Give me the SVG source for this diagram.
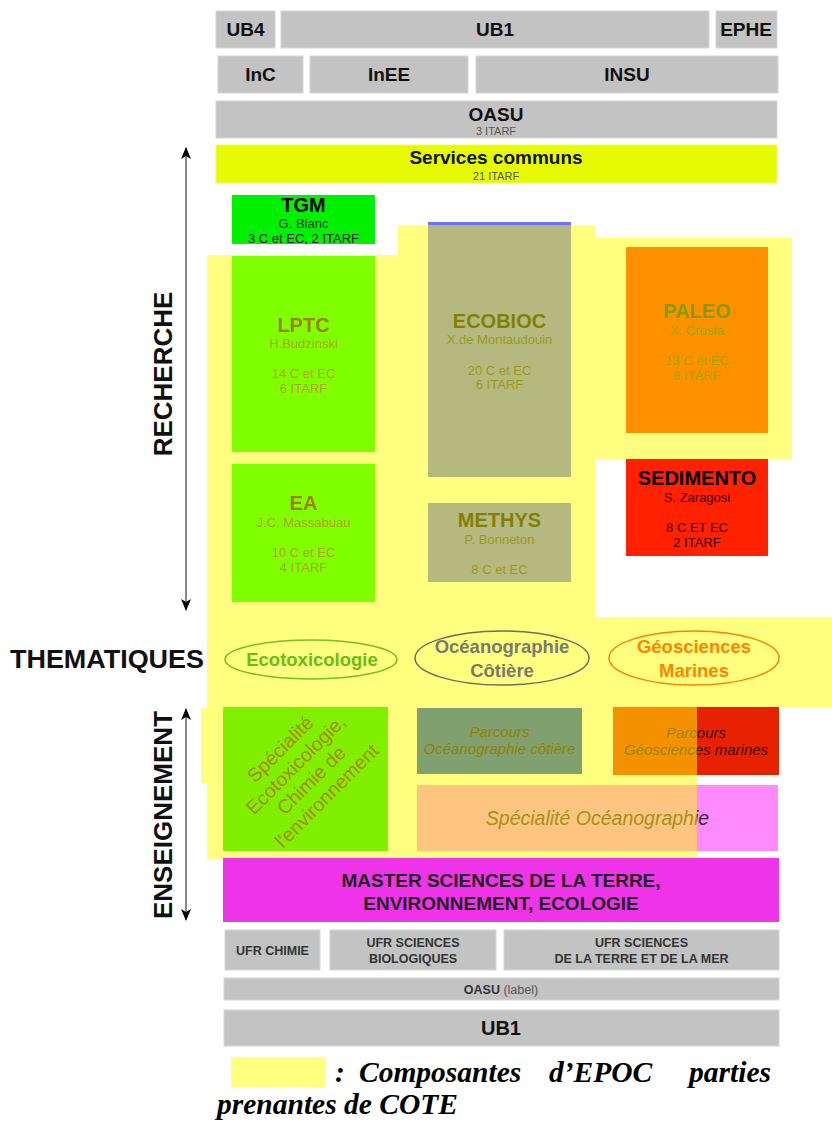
<svg xmlns="http://www.w3.org/2000/svg" width="832" height="1124" viewBox="0 0 832 1124">
<defs>
<style>
text{font-family:"Liberation Sans",Arial,sans-serif;text-anchor:middle}
.g{fill:#c3c3c3;stroke:#d6d6d6;stroke-width:1}
.h{font-weight:bold;font-size:19px;fill:#111}
.s{font-size:11px;fill:#555}
.t{font-weight:bold;font-size:20px}
.u{font-size:13px}
.i{font-style:italic}
.ufr{font-weight:bold;font-size:12.5px;fill:#333}
.side{font-weight:bold;font-size:26px;fill:#111}
.el{fill:none;stroke-width:1.5}
.et{font-weight:bold;font-size:18.5px}
.lg{font-family:"Liberation Serif","Times New Roman",serif;font-weight:bold;font-style:italic;font-size:29.5px;fill:#000;text-anchor:start}
</style>
<marker id="ah" viewBox="0 0 12 10" refX="11" refY="5" markerWidth="12" markerHeight="10" markerUnits="userSpaceOnUse" orient="auto-start-reverse">
<path d="M0,0 L12,5 L0,10 L3,5 Z" fill="#000"/>
</marker>
</defs>
<rect width="832" height="1124" fill="#fff"/>

<g id="top-ub4"><rect class="g" x="216" y="11" width="59" height="37"/><text class="h" x="245.5" y="36">UB4</text></g>
<g id="top-ub1"><rect class="g" x="281" y="11" width="428" height="37"/><text class="h" x="495" y="36">UB1</text></g>
<g id="top-ephe"><rect class="g" x="716" y="11" width="61" height="37"/><text class="h" x="746" y="36">EPHE</text></g>
<g id="inc"><rect class="g" x="218" y="56" width="85" height="37"/><text class="h" x="260.5" y="81">InC</text></g>
<g id="inee"><rect class="g" x="310" y="56" width="158" height="37"/><text class="h" x="389" y="81">InEE</text></g>
<g id="insu"><rect class="g" x="476" y="56" width="302" height="37"/><text class="h" x="627" y="81">INSU</text></g>
<g id="oasu-top"><rect class="g" x="216" y="101" width="561" height="37"/><text class="h" x="496" y="121">OASU</text><text class="s" x="496" y="135">3 ITARF</text></g>
<g id="services"><rect x="216" y="145" width="561" height="38" fill="#e6fa00" stroke="#eef870"/><text class="h" x="496" y="164">Services communs</text><text class="s" x="496" y="180">21 ITARF</text></g>

<g id="tgm"><rect x="232" y="195" width="143" height="49" fill="#00f000"/><text class="t" x="303.5" y="212" fill="#000">TGM</text><text class="u" x="303.5" y="228" fill="#333">G. Blanc</text><text class="u" x="303.5" y="243" fill="#222">3 C et EC, 2 ITARF</text></g>
<g id="lptc"><rect x="232" y="256" width="143" height="196" fill="#00ff00"/><text class="t" x="303.5" y="332" fill="#3c0000">LPTC</text><text class="u" x="303.5" y="348" fill="#644040">H.Budzinski</text><text class="u" x="303.5" y="378" fill="#644040">14 C et EC</text><text class="u" x="303.5" y="393" fill="#644040">6 ITARF</text></g>
<g id="ea"><rect x="232" y="464" width="143" height="138" fill="#00ff00"/><text class="t" x="303.5" y="510" fill="#3c0000">EA</text><text class="u" x="303.5" y="527" fill="#644040">J.C. Massabuau</text><text class="u" x="303.5" y="557" fill="#644040">10 C et EC</text><text class="u" x="303.5" y="572" fill="#644040">4 ITARF</text></g>
<g id="ecobioc"><rect x="428" y="222" width="143" height="255" fill="#6b72ff"/><text class="t" x="499.5" y="328" fill="#000">ECOBIOC</text><text class="u" x="499.5" y="344" fill="#333">X.de Montaudouin</text><text class="u" x="499.5" y="375" fill="#333">20 C et EC</text><text class="u" x="499.5" y="389" fill="#333">6 ITARF</text></g>
<g id="methys"><rect x="428" y="503" width="143" height="79" fill="#6b72ff"/><text class="t" x="499.5" y="527" fill="#000">METHYS</text><text class="u" x="499.5" y="544" fill="#333">P. Bonneton</text><text class="u" x="499.5" y="574" fill="#333">8 C et EC</text></g>
<g id="paleo"><rect x="626" y="247" width="142" height="186" fill="#ff2100"/><text class="t" x="697" y="318" fill="#003800">PALEO</text><text class="u" x="697" y="335" fill="#305000">X. Crosta</text><text class="u" x="697" y="365" fill="#305000">13 C et EC</text><text class="u" x="697" y="380" fill="#305000">6 ITARF</text></g>
<g id="sedimento"><rect x="626" y="459" width="142" height="97" fill="#ff2100"/><text class="t" x="697" y="485" fill="#000">SEDIMENTO</text><text class="u" x="697" y="502" fill="#400000">S. Zaragosi</text><text class="u" x="697" y="532" fill="#400000">8 C ET EC</text><text class="u" x="697" y="547" fill="#400000">2 ITARF</text></g>

<g id="spec-ecotox"><rect x="223" y="707" width="165" height="144" fill="#00e100"/><g transform="translate(304,773) rotate(-45)" fill="#4a1000" font-size="19.5"><text x="0" y="-27">Spécialité</text><text x="0" y="-5">Ecotoxicologie,</text><text x="0" y="17">Chimie de</text><text x="0" y="39">l'environnement</text></g></g>
<g id="parcours-oceano"><rect x="417" y="708" width="165" height="66" fill="#0041e0"/><text class="i" x="499.5" y="737" font-size="15" fill="#200000">Parcours</text><text class="i" x="499.5" y="754" font-size="15" fill="#200000">Océanographie côtière</text></g>
<g id="parcours-geo"><rect x="613" y="707" width="166" height="68" fill="#e82200"/><text class="i" x="696" y="738" font-size="15" fill="#3a0a00">Parcours</text><text class="i" x="696" y="755" font-size="15" fill="#3a0a00">Géosciences marines</text></g>
<g id="spec-oceano"><rect x="417" y="785" width="361" height="66" fill="#ff89ff"/><text class="i" x="597.5" y="825" font-size="19.5" fill="#402040">Spécialité Océanographie</text></g>

<path id="cote-overlay" d="M207,255 H398 V225 H595 V238 H792 V459 H595 V617 H832 V707 H697 V859 H207 V783 H201 V708 H207 Z" fill="#ffff00" fill-opacity="0.5"/>

<g id="theme-ecotox"><ellipse class="el" cx="311" cy="659.5" rx="86" ry="19.5" stroke="#77c020"/><text class="et" x="312" y="666" fill="#6cbc14">Ecotoxicologie</text></g>
<g id="theme-oceano"><ellipse class="el" cx="502" cy="658" rx="87" ry="27" stroke="#6e6e60"/><text class="et" x="502" y="653" fill="#7a7a6e">Océanographie</text><text class="et" x="502" y="677" fill="#7a7a6e">Côtière</text></g>
<g id="theme-geo"><ellipse class="el" cx="694" cy="658" rx="85" ry="27" stroke="#ff8000"/><text class="et" x="694" y="653" fill="#ff8400">Géosciences</text><text class="et" x="694" y="677" fill="#ff8400">Marines</text></g>

<g id="master"><rect x="223" y="858" width="556" height="64" fill="#ee33e8"/><text x="501" y="887" font-weight="bold" font-size="19" fill="#222">MASTER SCIENCES DE LA TERRE,</text><text x="501" y="910" font-weight="bold" font-size="19" fill="#222">ENVIRONNEMENT, ECOLOGIE</text></g>
<g id="ufr-chimie"><rect class="g" x="225" y="930" width="95" height="40"/><text class="ufr" x="272.5" y="955">UFR CHIMIE</text></g>
<g id="ufr-bio"><rect class="g" x="330" y="930" width="166" height="40"/><text class="ufr" x="413" y="947">UFR SCIENCES</text><text class="ufr" x="413" y="963">BIOLOGIQUES</text></g>
<g id="ufr-terre"><rect class="g" x="504" y="930" width="275" height="40"/><text class="ufr" x="641.5" y="947">UFR SCIENCES</text><text class="ufr" x="641.5" y="963">DE LA TERRE ET DE LA MER</text></g>
<g id="oasu-label"><rect class="g" x="224" y="978" width="555" height="22"/><text x="501" y="994" font-size="12.5" fill="#333"><tspan font-weight="bold">OASU</tspan><tspan fill="#555"> (label)</tspan></text></g>
<g id="ub1-bottom"><rect class="g" x="224" y="1010" width="555" height="36"/><text x="501" y="1035" font-weight="bold" font-size="20" fill="#111">UB1</text></g>

<text class="side" transform="translate(172,374) rotate(-90)">RECHERCHE</text>
<text class="side" x="107" y="668" font-size="27" textLength="194" lengthAdjust="spacingAndGlyphs">THEMATIQUES</text>
<text class="side" transform="translate(172,815) rotate(-90)">ENSEIGNEMENT</text>

<g id="connectors">
<line x1="186" y1="148" x2="186" y2="610" stroke="#888" stroke-width="2" marker-start="url(#ah)" marker-end="url(#ah)"/>
<line x1="186" y1="709" x2="186" y2="920" stroke="#888" stroke-width="2" marker-start="url(#ah)" marker-end="url(#ah)"/>
</g>

<g id="legend"><rect x="231" y="1057" width="95" height="30" fill="#ffff80"/>
<text class="lg" x="335" y="1082">:</text>
<text class="lg" x="359" y="1082">Composantes</text>
<text class="lg" x="549" y="1082">d’EPOC</text>
<text class="lg" x="771" y="1082" style="text-anchor:end">parties</text>
<text class="lg" x="217" y="1114">prenantes de COTE</text>
</g>
</svg>
